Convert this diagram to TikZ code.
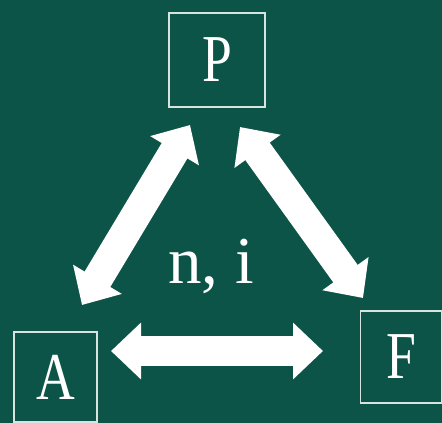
\documentclass[tikz,border=0pt]{standalone}
\usepackage{fontspec}
\setmainfont{Liberation Serif}
\usetikzlibrary{arrows.meta}
\definecolor{bg}{RGB}{13,84,72}
\definecolor{boxline}{RGB}{215,228,224}
\tikzset{
  letterbox/.style={draw=boxline, line width=1.8pt, inner sep=0pt, text=white,
    font=\fontsize{67}{70}\selectfont},
  fatarrow/.style={draw=white, line width=30pt,
    {Triangle[length=30pt,width=55pt]}-{Triangle[length=30pt,width=55pt]}},
  label text/.style={text=white, font=\fontsize{67}{70}\selectfont, inner sep=0pt}
}
\newcommand{\narrow}[1]{\scalebox{0.8}[1]{#1}}
\begin{document}
\begin{tikzpicture}[x=1pt,y=-1pt]
\fill[bg] (0,0) rectangle (442,423);
\useasboundingbox (0,0) rectangle (442,423);
\node[letterbox, minimum width=96pt, minimum height=94pt] (P) at (217,60) {\narrow{P}};
\node[letterbox, minimum width=83pt, minimum height=90pt] (A) at (55.5,377) {\narrow{A}};
\node[letterbox, minimum width=81pt, minimum height=92pt] (F) at (401,357) {\narrow{F}};
\node[label text, anchor=base] (ni) at (211,283) {n, i};
\coordinate (ap) at (82,305);
\coordinate (pa) at (190,125);
\coordinate (pf) at (240,127);
\coordinate (fp) at (363,298);
\coordinate (af) at (111,351);
\coordinate (fa) at (323,351);
\draw[fatarrow] (ap) -- (pa);
\draw[fatarrow] (pf) -- (fp);
\draw[fatarrow] (af) -- (fa);
\end{tikzpicture}
\end{document}
